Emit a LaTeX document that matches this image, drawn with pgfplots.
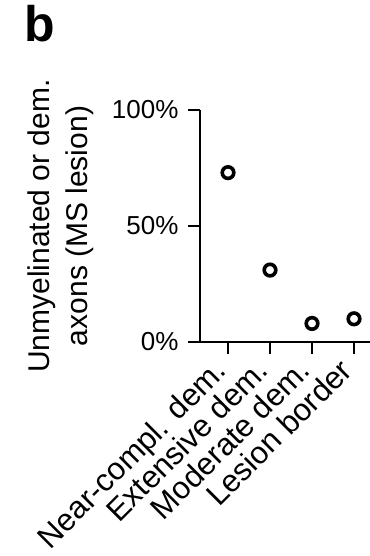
\documentclass[border=0pt]{standalone}
\usepackage{pgfplots}
\pgfplotsset{compat=1.18}
\usepackage{fontspec}
\setmainfont{Liberation Sans}

\pgfplotstableread{
x  y
0  73
1  31
2  8
3  10
}\demdata

\begin{document}
\begin{tikzpicture}
\useasboundingbox (0,0) rectangle (92.5pt,139pt);
\node[font=\bfseries\fontsize{12.5}{12.5}\selectfont, inner sep=0pt, anchor=base west] at (6pt,128.5pt) {b};
\begin{axis}[
  at={(50pt,53.5pt)}, anchor=south west,
  scale only axis, width=42.5pt, height=58pt,
  xmin=-0.667, xmax=3.381, ymin=0, ymax=100,
  clip=false,
  axis x line*=bottom, axis y line*=left,
  x axis line style={-, line width=0.7pt, shorten <=-3pt},
  y axis line style={-, line width=0.6pt},
  tick align=outside, major tick length=3pt,
  tick style={black, line width=0.6pt},
  xtick={0,1,2,3},
  xticklabels={Near-compl. dem., Extensive dem., Moderate dem., Lesion border},
  xticklabel style={xshift=-4pt, yshift=1pt, rotate=45, anchor=north east, inner sep=1pt,
    font=\fontsize{7.8}{8}\selectfont},
  ytick={0,50,100},
  yticklabel={\pgfmathprintnumber{\tick}\%},
  yticklabel style={font=\fontsize{6.5}{7}\selectfont, inner sep=2.2pt},
  /pgf/number format/assume math mode=true,
  ylabel={Unmyelinated or dem.\\axons (MS lesion)},
  ylabel style={at={(axis description cs:-0.82,0.5)}, anchor=center, align=center,
    font=\fontsize{7.5}{9.5}\selectfont},
]
\addplot[only marks, mark=o, mark size=1.45pt, mark options={line width=0.9pt, fill=white, draw=black}]
  table[x=x, y=y] {\demdata};
\end{axis}
\end{tikzpicture}
\end{document}
